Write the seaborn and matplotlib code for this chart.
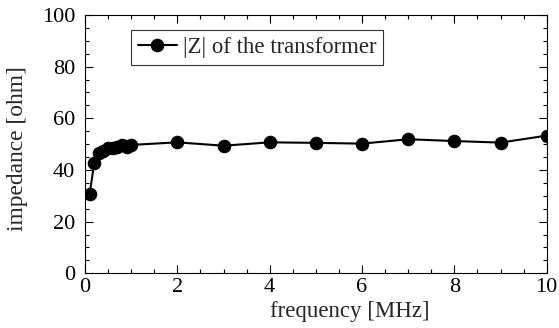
import matplotlib
matplotlib.use("Agg")
import matplotlib.pyplot as plt
import seaborn as sns
import pandas as pd
from matplotlib.ticker import MultipleLocator

freq = [0.1, 0.2, 0.3, 0.4, 0.5, 0.6, 0.7, 0.8, 0.9, 1.0, 2, 3, 4, 5, 6, 7, 8, 9, 10]
impedance = [30.7, 42.6, 46.4, 47.5, 48.4, 48.6, 49.0, 49.7, 49.0, 49.7,
             50.7, 49.4, 50.7, 50.5, 50.2, 51.9, 51.2, 50.6, 53.3]
series_label = "|Z| of the transformer"

df = pd.DataFrame({"freq": freq, "impedance": impedance})

sns.set_theme(style="ticks")
plt.rcParams["font.family"] = ["Liberation Serif", "DejaVu Serif"]

W, H = 559, 328
L, R, T, B = 85, 546.7, 15, 273.3
fig = plt.figure(figsize=(W / 100, H / 100), dpi=100)
ax = fig.add_axes([L / W, 1 - B / H, (R - L) / W, (B - T) / H])

sns.lineplot(data=df, x="freq", y="impedance", ax=ax, color="black", marker="o",
             markersize=9, linewidth=1.5, markeredgecolor="black", label=series_label)

ax.set_xlim(0, 10)
ax.set_ylim(0, 100)
ax.xaxis.set_major_locator(MultipleLocator(2))
ax.xaxis.set_minor_locator(MultipleLocator(0.5))
ax.yaxis.set_major_locator(MultipleLocator(20))
ax.yaxis.set_minor_locator(MultipleLocator(5))
ax.tick_params(which="both", direction="in", top=True, right=True, colors="black",
               labelsize=16, width=0.8)
ax.tick_params(which="major", length=6)
ax.tick_params(which="minor", length=3)
ax.tick_params(axis="x", which="major", pad=3.5)
ax.tick_params(axis="y", which="major", pad=7)
for s in ax.spines.values():
    s.set_color("black")
    s.set_linewidth(0.8)

ax.set_xlabel("frequency [MHz]", fontsize=16.5)
ax.set_ylabel("impedance [ohm]", fontsize=16.8)
ax.xaxis.set_label_coords((349.7 - L) / (R - L), (B - 301) / (B - T))
ax.yaxis.set_label_coords((28 - L) / (R - L), (B - 149) / (B - T))

leg = ax.legend(loc="upper left", bbox_to_anchor=((131 - L) / (R - L), (B - 30) / (B - T)),
                fontsize=16.4, frameon=True, fancybox=False, edgecolor="black",
                handlelength=1.7, handletextpad=0.29, borderpad=0.3, borderaxespad=0)
leg.get_frame().set_linewidth(0.8)

fig.savefig("out.png", dpi=100)
